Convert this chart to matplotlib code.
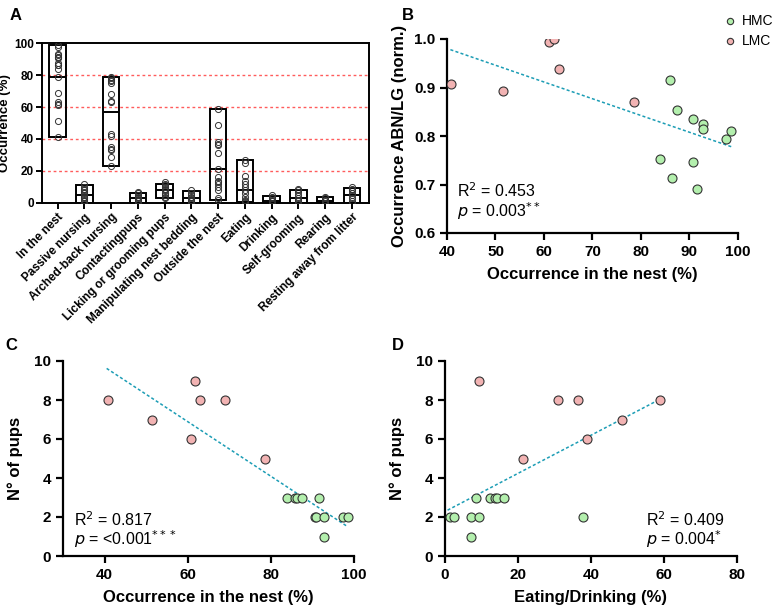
import matplotlib.pyplot as plt
import numpy as np

plt.rcParams['font.family'] = ['Liberation Sans', 'DejaVu Sans']

# ---- panel A data ----
behaviours = ["In the nest", "Passive nursing", "Arched-back nursing", "Contactingpups",
              "Licking or grooming pups", "Manipulating nest bedding", "Outside the nest",
              "Eating", "Drinking", "Self-grooming", "Rearing", "Resting away from litter"]
bar_low = [41, 0, 23, 0, 3, 0, 2, 0.5, 0, 0, 0, 0]
bar_high = [98.5, 11.5, 79, 6.5, 12, 7.5, 59, 27, 4.5, 8, 4, 9.5]
bar_median = [79, 5, 57, 3, 8, 3, 21, 8, 1.5, 3, 1.5, 5]
points_a = [
    [98.5, 97.5, 93, 92.8, 91.5, 91, 90.8, 87.5, 86.5, 86, 84, 78.7, 69, 63, 62, 61, 51.5, 41],
    [12, 10, 9, 8, 7, 6, 5, 4, 3, 2, 1, 0],
    [79, 78, 77, 76, 75, 68, 64, 63, 43, 42, 35, 34, 33, 29, 23],
    [7, 6, 5, 4, 3, 2, 1, 0],
    [13, 12, 11, 10, 9, 8, 6, 5, 4, 3],
    [8, 6, 5, 4, 3, 2, 1, 0],
    [59, 49, 38, 37, 36, 31, 21, 16, 14, 13, 12, 10, 8, 3, 2],
    [27, 25, 17, 14, 12, 10, 8, 6, 4, 2, 1, 0.5],
    [5, 4, 3, 2, 1, 0],
    [9, 8, 7, 5, 3, 2, 1, 0],
    [4, 3, 2, 1, 0],
    [10, 9, 8, 6, 5, 3, 1, 0],
]

# ---- panel B data ----
b_lmc_x = [40.9, 51.5, 61.0, 62.0, 63.0, 78.5]
b_lmc_y = [0.907, 0.893, 0.994, 0.999, 0.939, 0.870]
b_hmc_x = [86.0, 87.4, 90.7, 92.7, 92.7, 98.5, 97.5, 84.0, 90.8, 86.4, 91.5]
b_hmc_y = [0.915, 0.854, 0.836, 0.825, 0.814, 0.810, 0.794, 0.753, 0.746, 0.714, 0.691]
b_trend_x = [40.7, 98.6]
b_trend_y = [0.978, 0.778]

# ---- panel C data ----
c_lmc_x = [40.8, 51.3, 60.8, 61.8, 62.9, 68.9, 78.5]
c_lmc_y = [8, 7, 6, 9, 8, 8, 5]
c_hmc_x = [84.0, 85.9, 86.4, 87.5, 91.5, 90.7, 90.9, 92.7, 97.4, 98.5, 92.8]
c_hmc_y = [3, 3, 3, 3, 3, 2, 2, 2, 2, 2, 1]
c_trend_x = [40.5, 98.5]
c_trend_y = [9.62, 1.5]

# ---- panel D data ----
d_lmc_x = [9.2, 30.9, 36.5, 59.0, 48.5, 39.0, 21.4]
d_lmc_y = [9, 8, 8, 8, 7, 6, 5]
d_hmc_x = [1.4, 2.6, 7.2, 9.2, 37.9, 7.2, 8.4, 12.4, 13.7, 14.2, 16.1]
d_hmc_y = [2, 2, 2, 2, 2, 1, 3, 3, 3, 3, 3]
d_trend_x = [0.7, 59.0]
d_trend_y = [2.35, 8.05]

green = '#b3efad'
pink = '#f2b3b3'
trend_col = '#1c9db5'
W, H = 777, 608

fig = plt.figure(figsize=(W / 100, H / 100), dpi=100)


def px_axes(l, t, r, b):
    return fig.add_axes([l / W, 1 - b / H, (r - l) / W, (b - t) / H])


def style_scatter_axes(ax):
    for s in ('top', 'right'):
        ax.spines[s].set_visible(False)
    for s in ('left', 'bottom'):
        ax.spines[s].set_linewidth(1.6)
    ax.tick_params(width=1.6, length=5, labelsize=11)
    for lab in ax.get_xticklabels() + ax.get_yticklabels():
        lab.set_fontweight('bold')


# ---------- A ----------
axA = px_axes(42, 43, 369, 203)
xa = np.arange(len(behaviours))
for yv in [20, 40, 60, 80]:
    axA.axhline(yv, color='#ff5c5c', ls=(0, (2, 2)), lw=1.0, zorder=0)
axA.bar(xa, np.array(bar_high) - np.array(bar_low), bottom=bar_low, width=0.62,
        fill=False, edgecolor='black', lw=1.4, zorder=2)
axA.hlines(bar_median, xa - 0.31, xa + 0.31, color='black', lw=1.4, zorder=2)
for i, pts in enumerate(points_a):
    axA.plot(np.full(len(pts), i), pts, 'o', mfc='none', mec='#333333', ms=4.4,
             mew=0.7, zorder=3)
axA.set_xlim(-0.58, 11.64)
axA.set_ylim(0, 100)
axA.set_yticks([0, 20, 40, 60, 80, 100])
axA.set_xticks(xa)
axA.set_xticklabels(behaviours, rotation=45, ha='right', rotation_mode='anchor',
                    fontsize=7.6, fontweight='bold')
axA.tick_params(width=1.4, length=4, labelsize=8.5, pad=2)
for lab in axA.get_yticklabels():
    lab.set_fontweight('bold')
for s in axA.spines.values():
    s.set_linewidth(1.4)
axA.set_ylabel('Occurrence (%)', fontsize=9.5, fontweight='bold', labelpad=2)

# ---------- B ----------
axB = px_axes(447, 39, 738, 233)
axB.plot(b_trend_x, b_trend_y, ls=(0, (2, 1.5)), color=trend_col, lw=1.1)
axB.scatter(b_hmc_x, b_hmc_y, s=42, c=green, edgecolors='#333333', lw=0.8, zorder=3, label='HMC')
axB.scatter(b_lmc_x, b_lmc_y, s=42, c=pink, edgecolors='#333333', lw=0.8, zorder=3, label='LMC')
axB.set_xlim(40, 100)
axB.set_ylim(0.6, 1.0)
axB.set_xticks([40, 50, 60, 70, 80, 90, 100])
axB.set_yticks([0.6, 0.7, 0.8, 0.9, 1.0])
axB.set_yticklabels(['0.6', '0.7', '0.8', '0.9', '1.0'])
style_scatter_axes(axB)
axB.set_xlabel('Occurrence in the nest (%)', fontsize=12, fontweight='bold', labelpad=6)
axB.set_ylabel('Occurrence ABN/LG (norm.)', fontsize=12, fontweight='bold', labelpad=5)
axB.text(0.035, 0.185, r'R$^2$ = 0.453', transform=axB.transAxes, fontsize=11.5)
axB.text(0.035, 0.08, r'$p$ = 0.003$^{**}$', transform=axB.transAxes, fontsize=11.5)
axB.legend(loc='upper left', bbox_to_anchor=(0.955, 1.129), frameon=False, fontsize=10,
           handlelength=0.8, handletextpad=0.4, borderpad=0, borderaxespad=0,
           labelspacing=0.4, markerscale=0.7)

# ---------- C ----------
axC = px_axes(63, 361, 354, 556)
axC.plot(c_trend_x, c_trend_y, ls=(0, (2, 1.5)), color=trend_col, lw=1.1)
axC.scatter(c_hmc_x, c_hmc_y, s=42, c=green, edgecolors='#333333', lw=0.8, zorder=3)
axC.scatter(c_lmc_x, c_lmc_y, s=42, c=pink, edgecolors='#333333', lw=0.8, zorder=3)
axC.set_xlim(30, 100)
axC.set_ylim(0, 10)
axC.set_xticks([40, 60, 80, 100])
axC.set_yticks([0, 2, 4, 6, 8, 10])
style_scatter_axes(axC)
axC.set_xlabel('Occurrence in the nest (%)', fontsize=12, fontweight='bold', labelpad=6)
axC.set_ylabel('N° of pups', fontsize=12, fontweight='bold', labelpad=8)
axC.text(0.038, 0.155, r'R$^2$ = 0.817', transform=axC.transAxes, fontsize=11.5)
axC.text(0.038, 0.055, r'$p$ = <0.001$^{***}$', transform=axC.transAxes, fontsize=11.5)

# ---------- D ----------
axD = px_axes(445, 361, 737, 556)
axD.plot(d_trend_x, d_trend_y, ls=(0, (2, 1.5)), color=trend_col, lw=1.1)
axD.scatter(d_hmc_x, d_hmc_y, s=42, c=green, edgecolors='#333333', lw=0.8, zorder=3)
axD.scatter(d_lmc_x, d_lmc_y, s=42, c=pink, edgecolors='#333333', lw=0.8, zorder=3)
axD.set_xlim(0, 80)
axD.set_ylim(0, 10)
axD.set_xticks([0, 20, 40, 60, 80])
axD.set_yticks([0, 2, 4, 6, 8, 10])
style_scatter_axes(axD)
axD.set_xlabel('Eating/Drinking (%)', fontsize=12, fontweight='bold', labelpad=6)
axD.set_ylabel('N° of pups', fontsize=12, fontweight='bold', labelpad=8)
axD.text(0.69, 0.155, r'R$^2$ = 0.409', transform=axD.transAxes, fontsize=11.5)
axD.text(0.69, 0.055, r'$p$ = 0.004$^{*}$', transform=axD.transAxes, fontsize=11.5)

# panel letters
for letter, (x, y) in {'A': (10, 20), 'B': (402, 20), 'C': (5, 350), 'D': (392, 350)}.items():
    fig.text(x / W, 1 - y / H, letter, fontsize=12, fontweight='bold')

fig.savefig('out.png', dpi=100)
